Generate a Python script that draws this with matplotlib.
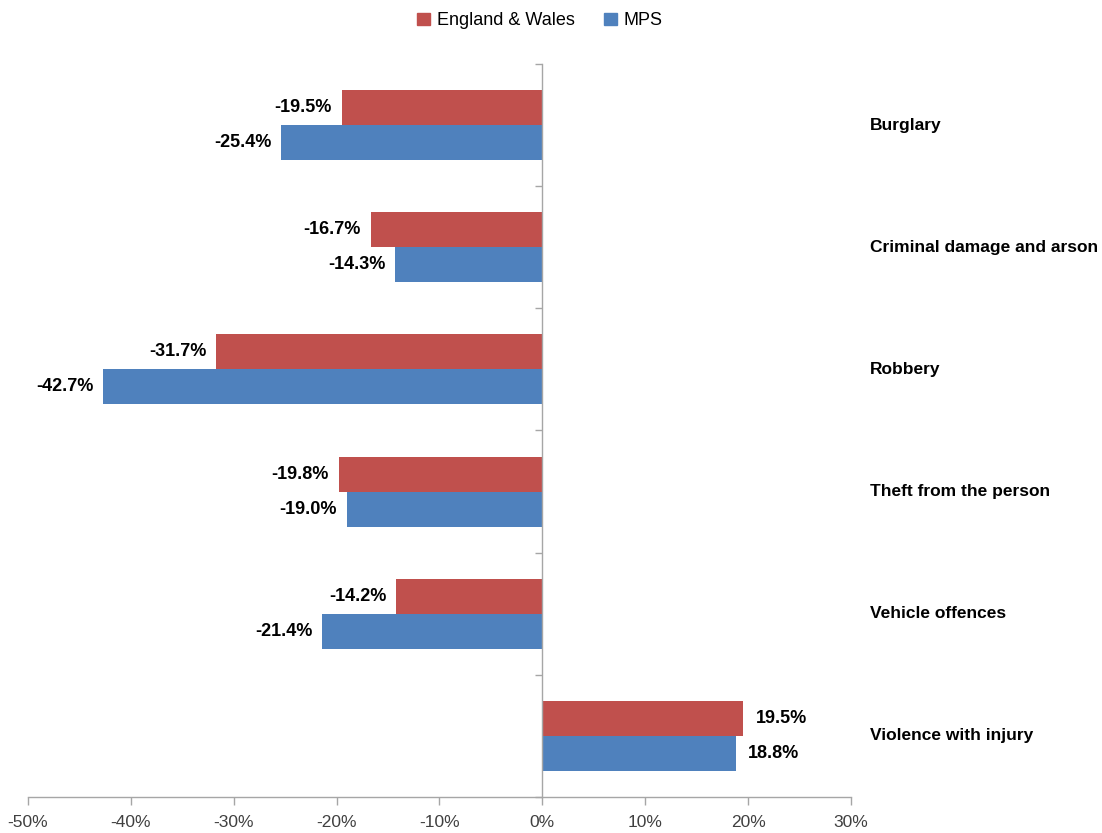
import matplotlib.pyplot as plt
import matplotlib.transforms as mtransforms
from matplotlib.patches import Patch
from matplotlib.ticker import FuncFormatter
import numpy as np

plt.rcParams['font.family'] = ['Liberation Sans', 'DejaVu Sans']

categories = ['Burglary', 'Criminal damage and arson', 'Robbery',
              'Theft from the person', 'Vehicle offences', 'Violence with injury']
england_wales = [-19.5, -16.7, -31.7, -19.8, -14.2, 19.5]
mps = [-25.4, -14.3, -42.7, -19.0, -21.4, 18.8]
series_names = ['England & Wales', 'MPS']

red = '#c0504d'
blue = '#4f81bd'
grey = '#a6a6a6'

fig = plt.figure(figsize=(11.02, 8.33), dpi=100)
ax = fig.add_axes([0.0254, 0.0432, 0.7468, 0.8800])

n = len(categories)
y = np.arange(n)
h = 0.287
ax.barh(y - h / 2, england_wales, height=h, color=red, zorder=2)
ax.barh(y + h / 2, mps, height=h, color=blue, zorder=2)

ax.set_xlim(-50, 30)
ax.set_ylim(n - 0.5, -0.5)
ax.set_xticks(np.arange(-50, 31, 10))
ax.xaxis.set_major_formatter(FuncFormatter(lambda v, p: '%d%%' % v))

# vertical axis line at 0 with ticks at category boundaries
ax.spines['left'].set_position(('data', 0))
ax.set_yticks(np.arange(-0.5, n, 1.0))
ax.set_yticklabels([])
for s in ['top', 'right']:
    ax.spines[s].set_visible(False)
for s in ['left', 'bottom']:
    ax.spines[s].set_color(grey)
    ax.spines[s].set_linewidth(1.0)
ax.tick_params(axis='y', colors=grey, length=5, width=1.0)
ax.tick_params(axis='x', color=grey, length=6, width=1.0,
               labelsize=12.5, labelcolor='#404040', pad=7)

# value labels
for vals, off in [(england_wales, -h / 2), (mps, h / 2)]:
    for i, v in enumerate(vals):
        if v < 0:
            ax.annotate('%.1f%%' % v, (v, i + off), xytext=(-7, 0),
                        textcoords='offset points', ha='right', va='center',
                        fontsize=13, fontweight='bold')
        else:
            ax.annotate('%.1f%%' % v, (v, i + off), xytext=(9, 0),
                        textcoords='offset points', ha='left', va='center',
                        fontsize=13, fontweight='bold')

# category labels on the right
trans = mtransforms.blended_transform_factory(ax.transAxes, ax.transData)
for i, c in enumerate(categories):
    ax.text(1.023, i, c, transform=trans, ha='left', va='center',
            fontsize=12.5, fontweight='bold')

handles = [Patch(color=red), Patch(color=blue)]
fig.legend(handles, series_names, loc='center', bbox_to_anchor=(0.49, 0.975),
           ncol=2, frameon=False, fontsize=13, handlelength=0.7,
           handleheight=0.7, handletextpad=0.4, columnspacing=1.6)

fig.savefig('out.png', dpi=100)
